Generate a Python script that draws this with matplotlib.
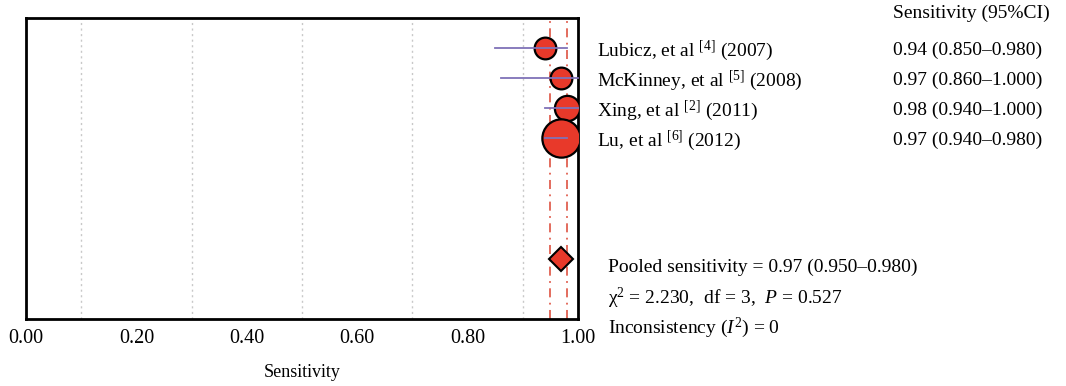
import matplotlib
matplotlib.use("Agg")
import matplotlib.pyplot as plt

plt.rcParams['font.family'] = ['Liberation Serif', 'DejaVu Serif']
plt.rcParams['mathtext.fontset'] = 'custom'
plt.rcParams['mathtext.rm'] = 'Liberation Serif'
plt.rcParams['mathtext.it'] = 'Liberation Serif:italic'

# study data
studies = ["Lubicz, et al", "McKinney, et al", "Xing, et al", "Lu, et al"]
refs = ["4", "5", "2", "6"]
years = ["2007", "2008", "2011", "2012"]
sens = [0.94, 0.97, 0.98, 0.97]
ci_low = [0.85, 0.86, 0.94, 0.94]
ci_high = [0.98, 1.00, 1.00, 0.98]
weights = [1.0, 1.0, 1.35, 3.1]  # relative study weight -> marker area

pooled = 0.97
pooled_low = 0.95
pooled_high = 0.98

fig = plt.figure(figsize=(10.66, 3.86), dpi=100)
ax = fig.add_axes([0.0244, 0.1736, 0.5178, 0.7798])

red = "#e8392a"
purple = "#7f72b8"

# pooled CI reference lines
for v in (pooled_low, pooled_high):
    ax.axvline(v, color="#e06050", lw=1.3, ls=(0, (5, 3, 1, 3)), zorder=1)

rows = list(range(1, len(studies) + 1))
for y, s, lo, hi, w in zip(rows, sens, ci_low, ci_high, weights):
    ax.scatter(s, y, s=245 * w, color=red, edgecolor="black", linewidth=1.6, zorder=3)
    ax.plot([lo, hi], [y, y], color=purple, lw=1.3, zorder=4, clip_on=False)

ax.plot(pooled, 8, marker="D", markersize=12.5, color=red, mec="black", mew=1.5, zorder=3)

ticks = [0, 0.2, 0.4, 0.6, 0.8, 1.0]
ax.set_xlim(0, 1)
ax.set_ylim(10, 0)
ax.set_xticks(ticks)
ax.set_xticklabels(["%.2f" % t for t in ticks], fontsize=14.5)
ax.set_xticks([i / 10 for i in range(1, 10)], minor=True)
ax.tick_params(axis="x", which="both", length=0, pad=7)
ax.set_yticks([])
ax.grid(axis="x", which="minor", color="#c8c8c8", ls=(0, (1.5, 2.5)), lw=1)
for sp in ax.spines.values():
    sp.set_linewidth(2)
ax.set_xlabel("Sensitivity", fontsize=13, labelpad=12)

# right-side table
fs = 14
tr = ax.get_yaxis_transform()
ax.text(1.571, -0.17, "Sensitivity (95%CI)", transform=tr,
        fontsize=fs, va="center", clip_on=False)
for y, name, r, yr, s, lo, hi in zip(rows, studies, refs, years, sens, ci_low, ci_high):
    ax.text(1.034, y + 0.08, name + r" $^{\mathrm{[" + r + "]}}$ (" + yr + ")",
            transform=tr, fontsize=fs, va="center", clip_on=False)
    ax.text(1.571, y + 0.08, "%.2f (%.3f\u2013%.3f)" % (s, lo, hi),
            transform=tr, fontsize=fs, va="center", clip_on=False)

stats = [
    "Pooled sensitivity = %.2f (%.3f\u2013%.3f)" % (pooled, pooled_low, pooled_high),
    "\u03c7$^{2}$ = 2.230,  df = 3,  $P$ = 0.527",
    r"Inconsistency ($I^{2}$) = 0",
]
for i, t in enumerate(stats):
    ax.text(1.054, 8.3 + i, t, transform=tr,
            fontsize=fs, va="center", clip_on=False)

fig.savefig("out.png", dpi=100)
